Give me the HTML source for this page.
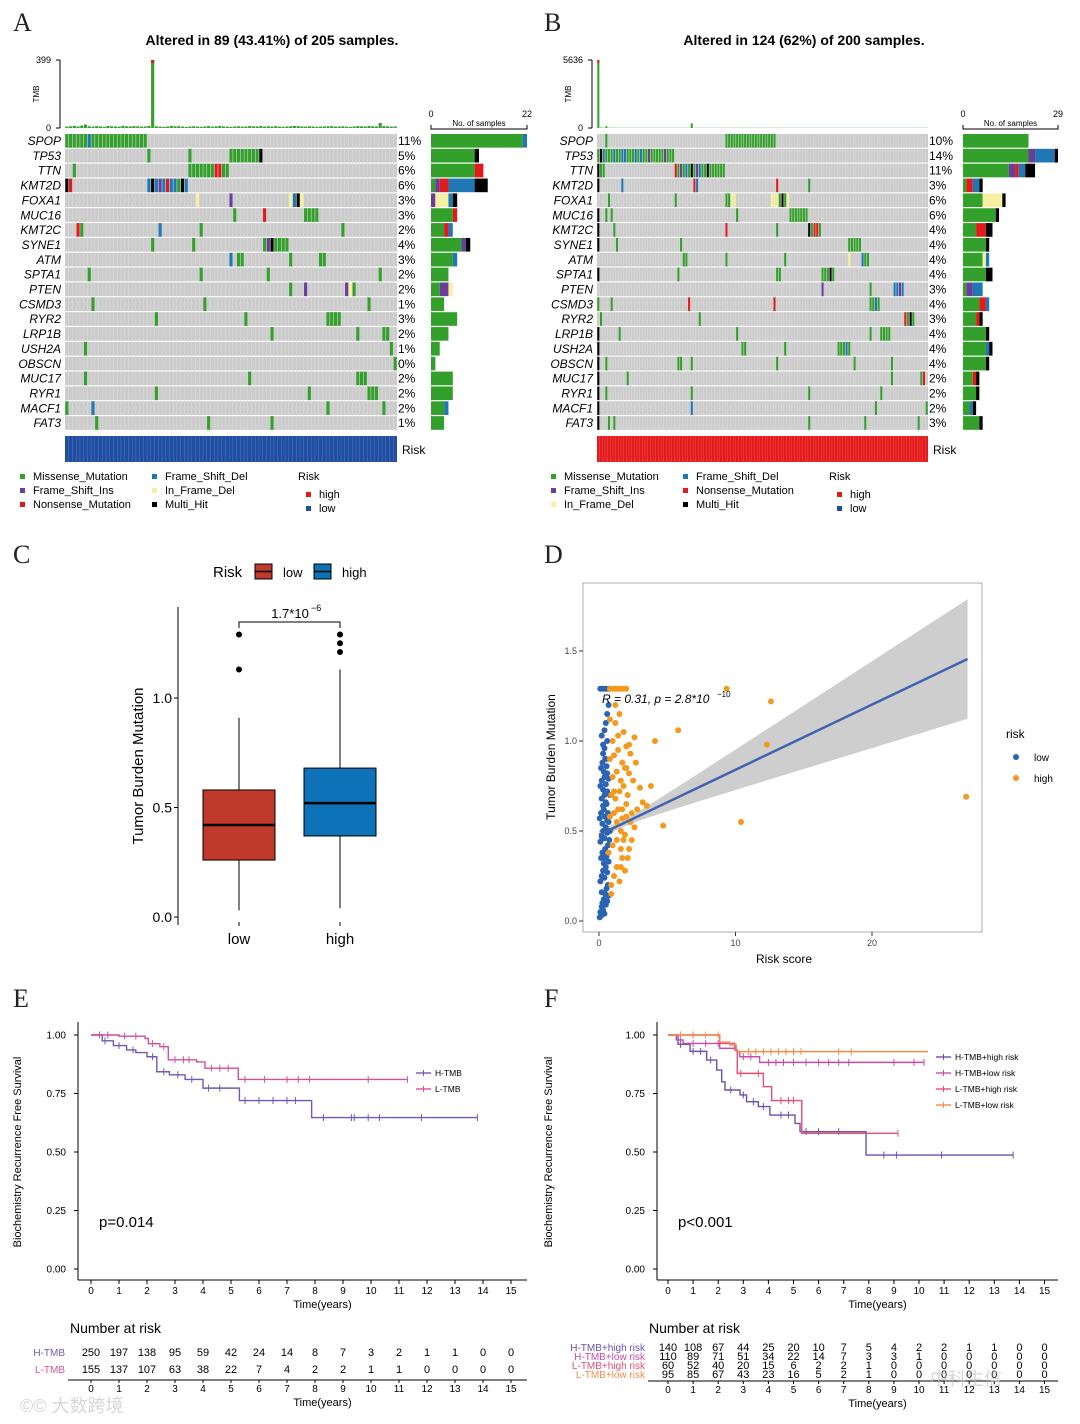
<!DOCTYPE html>
<html><head><meta charset="utf-8"><style>
html,body{margin:0;padding:0;background:#fff;}
svg{display:block;font-family:"Liberation Sans",Arial,sans-serif;}
.gl{font-style:italic;font-size:12px;}
</style></head><body>
<svg id="fig" width="1080" height="1424" viewBox="0 0 1080 1424" xmlns="http://www.w3.org/2000/svg">
<rect x="0" y="0" width="1080" height="1424" fill="#fff"/>
<g font-family="Liberation Serif,serif" font-size="26" fill="#222">
<text x="13" y="31">A</text>
<text x="544" y="31">B</text>
<text x="13" y="563">C</text>
<text x="544" y="563">D</text>
<text x="13" y="1007">E</text>
<text x="544" y="1007">F</text>
</g>
<text x="272" y="45" text-anchor="middle" font-size="14" font-weight="bold">Altered in 89 (43.41%) of 205 samples.</text>
<text x="804" y="45" text-anchor="middle" font-size="14" font-weight="bold">Altered in 124 (62%) of 200 samples.</text>
<g id="gA"></g>
<g id="gB"></g>
<g id="gC"></g>
<g id="gD"></g>
<g id="gE"></g>
<g id="gF"></g>
<text x="20" y="1412" font-size="18" fill="#bbb" opacity="0.6">©© 大数跨境</text>
<text x="930" y="1385" font-size="18" fill="#bbb" opacity="0.6">中科生信</text>
</svg>
<script>
const NS="http://www.w3.org/2000/svg";
function mk(tag,attrs,parent,txt){const e=document.createElementNS(NS,tag);for(const k in attrs)e.setAttribute(k,attrs[k]);if(txt!==undefined)e.textContent=txt;parent.appendChild(e);return e;}

const genes=["SPOP","TP53","TTN","KMT2D","FOXA1","MUC16","KMT2C","SYNE1","ATM","SPTA1","PTEN","CSMD3","RYR2","LRP1B","USH2A","OBSCN","MUC17","RYR1","MACF1","FAT3"];
const pctA=["11%","5%","6%","6%","3%","3%","2%","4%","3%","2%","2%","1%","3%","2%","1%","0%","2%","2%","2%","1%"];
const pctB=["10%","14%","11%","3%","6%","6%","4%","4%","4%","4%","3%","4%","3%","4%","4%","4%","2%","2%","2%","3%"];
const mutA=["0-5M 6F 7-21M","22M 33M 44-51M 52X","2M 33-39M 40-41N 42-43M","0X 1N 22F 23X 24F 25I 26F 27N 28F 29F 30M 31X 32F","35Y 44I 60Y 61F 62X 63Y","45M 53N 64-67M","3N 4M 25F 36M 74M","23M 34M 53M 54I 55X 56-59M","44F 46-47M 60M 68-69M","6M 36M 54M 84M","60M 64I 75I 76Y 77M","7M 37M 81M","24M 48M 70-73M","55M 78M 85-86M","5M 87M","88M","5M 49M 78-80M","24M 65M 81-83M","0M 7F 70M 85M","8M 38M 55M"];
const mutB=["3M 48-66M","0M 1X 2F 3-5M 6F 7-8M 9-10F 11-13M 14F 15M 16F 17-18M 19I 20-24M 25I 26-28M","0X 1-2M 29N 30M 31I 32M 33F 34M 35X 36M 37I 38F 39-40M 41X 42-47M","0X 9F 36N 37F 67N 79M","4M 29M 48-49M 50-51Y 65-67Y 68M 69X 70M 71Y","0X 3M 5M 52M 72-78M","0X 6M 48N 67M 79X 80M 81-82N 83M","0X 7M 31M 94-98M","32-33M 48M 70M 94Y 99F 100-101M","0X 30M 67-68M 84-86M 87X 88M","84I 102M 111-112F 113I 114F","0M 5M 34N 66N 102-103M 104F 105M","1M 38M 115N 116M 117X 118M","0X 8M 52M 102M 106-109M","0X 54-55M 70M 90-92M 93F 94M","0X 3M 30-31M 35M 67M 96M 110M","0X 11M 110M 121M 122N","0X 3M 35M 79M 106M","0X 35F 104M 123M","0X 4M 6M 79M 100M 120M"];
const tmbA=[8,10,12,9,14,20,10,8,11,9,7,12,10,9,8,13,10,9,11,10,8,9,12,399,10,8,7,9,12,10,11,8,6,9,10,8,7,9,11,8,10,12,9,8,7,9,10,8,9,11,10,9,12,8,10,9,11,8,7,9,10,12,11,9,8,10,9,7,8,9,10,11,8,9,10,8,7,9,11,10,9,12,10,9,30,11,10,8,9];
const tmbB=[5636,40,30,150,20,25,30,20,18,22,20,19,21,20,18,22,20,19,21,20,18,22,20,19,21,20,18,22,20,19,21,20,18,22,20,380,21,20,18,22,20,19,21,20,18,22,20,19,21,20,18,22,20,19,21,20,18,22,20,19,21,20,18,22,20,19,21,20,18,22,20,19,21,20,18,22,20,19,21,20,18,22,20,19,21,20,18,22,20,19,21,20,18,22,20,19,21,20,18,22,20,19,21,20,18,22,20,19,21,20,18,22,20,19,21,20,18,22,20,19,21,20,18,22];
const colors={M:"#33a02c",F:"#1f78b4",I:"#6a3d9a",Y:"#f6f1a2",N:"#e31a1c",X:"#000000"};
const typeOrder=["M","I","Y","N","F","X"];
function parseMut(s){const out=[];s.split(" ").forEach(tok=>{const t=tok.slice(-1);const r=tok.slice(0,-1).split("-");const a=+r[0],b=r.length>1?+r[1]:a;for(let i=a;i<=b;i++)out.push([i,t]);});return out;}

function oncoplot(g,cfg){
  const {x0,x1,nCols,muts,pcts,tmb,tmbMax,barX,barMax,barW,riskColor,legend}=cfg;
  const top=134,rowH=14.85,cw=(x1-x0)/nCols;
  const P=document.getElementById(g);
  const yT=v=>128-v/tmbMax*68;
  let a=mk("line",{x1:x0-5,y1:60,x2:x0-5,y2:128,stroke:"#000","stroke-width":1},P);
  
  
  let t1=mk("text",{x:x0-14,y:63,"text-anchor":"end","font-size":9},P,String(tmbMax));
  
  
  let t0=mk("text",{x:x0-14,y:131,"text-anchor":"end","font-size":9},P,"0");
  
  
  [60,128].forEach(y=>mk("line",{x1:x0-9,y1:y,x2:x0-5,y2:y,stroke:"#000"},P));
  let tt=mk("text",{x:0,y:0,"font-size":8,"text-anchor":"middle",transform:`translate(${x0-26},94) rotate(-90)`},P,"TMB");
  
  
  tmb.forEach((v,i)=>{const y=yT(v);
    const b=mk("rect",{x:x0+i*cw+0.3,y:y,width:Math.max(cw-0.6,0.8),height:128-y,fill:"#33a02c"},P);
    
    
    if(v>tmbMax*0.5){const c=mk("rect",{x:x0+i*cw+0.3,y:y,width:Math.max(cw-0.6,0.8),height:3,fill:"#e31a1c"},P);
      
      }
  });
  genes.forEach((gname,r)=>{
    const y=top+r*rowH;
    const bg=mk("rect",{x:x0,y:y,width:x1-x0,height:rowH-1.2,fill:"#cccccc"},P);
    
    
    const lab=mk("text",{x:x0-4,y:y+11,"text-anchor":"end",class:"gl"},P,gname);
    
    
    const pc=mk("text",{x:x1+1,y:y+11,"font-size":12},P,pcts[r]);
    
    
  });
  for(let i=1;i<nCols;i++){mk("line",{x1:x0+i*cw,y1:top,x2:x0+i*cw,y2:top+20*rowH,stroke:"#dedede","stroke-width":0.5},P);}
  muts.forEach((s,r)=>{
    const y=top+r*rowH;const ev=parseMut(s);const cnt={};
    ev.forEach(([c,t])=>{cnt[t]=(cnt[t]||0)+1;
      const cell=mk("rect",{x:x0+c*cw+0.3,y:y,width:cw-0.6,height:rowH-1.2,fill:colors[t]},P);
      
      
    });
    let bx=barX;const sc=barW/barMax;
    typeOrder.forEach(t=>{if(!cnt[t])return;
      const br=mk("rect",{x:bx,y:y,width:cnt[t]*sc,height:rowH-1.2,fill:colors[t]},P);
      
      
      bx+=cnt[t]*sc;});
  });
  const ax=mk("path",{d:`M${barX} 125 V129 H${barX+barW} V125`,fill:"none",stroke:"#000"},P);
  
  
  const s0=mk("text",{x:barX,y:117,"font-size":9,"text-anchor":"middle"},P,"0");
  
  
  const s1=mk("text",{x:barX+barW,y:117,"font-size":9,"text-anchor":"middle"},P,String(barMax));
  
  
  const st=mk("text",{x:barX+barW/2,y:126,"font-size":8,"text-anchor":"middle"},P,"No. of samples");
  
  
  const rb=mk("rect",{x:x0,y:436,width:x1-x0,height:26,fill:riskColor},P);
  
  
  for(let i=1;i<nCols;i++){mk("line",{x1:x0+i*cw,y1:436,x2:x0+i*cw,y2:462,stroke:"#fff","stroke-width":0.25,opacity:0.5},P);}
  const rl=mk("text",{x:x1+5,y:454,"font-size":12},P,"Risk");
  
  
  legend.forEach(([lx,ly,t,txt])=>{
    const sq=mk("rect",{x:lx,y:ly-6,width:5,height:5,fill:colors[t]},P);
    
    
    const lt=mk("text",{x:lx+13,y:ly,"font-size":11},P,txt);
    
    
  });
  const lx=legend[0][0]+278;
  const rt=mk("text",{x:lx,y:480,"font-size":11},P,"Risk");
  
  
  [["#e31a1c","high",498],["#1f4ea3","low",512]].forEach(([c,txt,y])=>{
    const q=mk("rect",{x:lx+8,y:y-6,width:5,height:5,fill:c},P);
    
    
    const tx=mk("text",{x:lx+21,y:y,"font-size":11},P,txt);
    
    
  });
}
oncoplot("gA",{x0:65,x1:397,nCols:89,muts:mutA,pcts:pctA,tmb:tmbA,tmbMax:399,barX:431,barMax:22,barW:96,riskColor:"#1f4ea3",
 legend:[[20,480,"M","Missense_Mutation"],[152,480,"F","Frame_Shift_Del"],[20,494,"I","Frame_Shift_Ins"],[152,494,"Y","In_Frame_Del"],[20,508,"N","Nonsense_Mutation"],[152,508,"X","Multi_Hit"]]});
oncoplot("gB",{x0:597,x1:928,nCols:124,muts:mutB,pcts:pctB,tmb:tmbB,tmbMax:5636,barX:963,barMax:29,barW:95,riskColor:"#e41a1c",
 legend:[[551,480,"M","Missense_Mutation"],[683,480,"F","Frame_Shift_Del"],[551,494,"I","Frame_Shift_Ins"],[683,494,"N","Nonsense_Mutation"],[551,508,"Y","In_Frame_Del"],[683,508,"X","Multi_Hit"]]});

const boxGroups=["low","high"];
const boxMin=[0.03,0.04];
const boxQ1=[0.26,0.37];
const boxMed=[0.42,0.52];
const boxQ3=[0.58,0.68];
const boxMax=[0.91,1.13];
const boxOut=[[1.13,1.29],[1.21,1.25,1.29]];
const boxFill=["#c0392b","#0e72b8"];
(function(){
  const P=document.getElementById("gC");
  const yS=v=>917-v*219;const xC=[239,340];
  const ax=mk("line",{x1:178,y1:607,x2:178,y2:925,stroke:"#000","stroke-width":1},P);
  
  
  [0,0.5,1.0].forEach(v=>{mk("line",{x1:174,y1:yS(v),x2:178,y2:yS(v),stroke:"#000"},P);
    const t=mk("text",{x:172,y:yS(v)+5,"text-anchor":"end","font-size":14},P,v.toFixed(1));
    
    });
  const yt=mk("text",{x:0,y:0,"font-size":15,"text-anchor":"middle",transform:"translate(143,766) rotate(-90)"},P,"Tumor Burden Mutation");
  
  
  boxGroups.forEach((gname,i)=>{const x=xC[i];
    const w=mk("line",{x1:x,y1:yS(boxMin[i]),x2:x,y2:yS(boxMax[i]),stroke:"#000"},P);
    
    
    const b=mk("rect",{x:x-36,y:yS(boxQ3[i]),width:72,height:yS(boxQ1[i])-yS(boxQ3[i]),fill:boxFill[i],stroke:"#000"},P);
    
    
    const m=mk("line",{x1:x-36,y1:yS(boxMed[i]),x2:x+36,y2:yS(boxMed[i]),stroke:"#000","stroke-width":2.5},P);
    
    
    boxOut[i].forEach(v=>{const o=mk("circle",{cx:x,cy:yS(v),r:3,fill:"#000"},P);
      
      });
    mk("line",{x1:x,y1:922,x2:x,y2:926,stroke:"#000"},P);
    const lb=mk("text",{x:x,y:944,"text-anchor":"middle","font-size":15},P,gname);
    
    
  });
  const br=mk("path",{d:"M239 628 V622 H340 V628",fill:"none",stroke:"#000"},P);
  
  
  const pv=mk("text",{x:290,y:618,"text-anchor":"middle","font-size":13},P,"1.7*10");
  
  
  mk("text",{x:311,y:611,"font-size":9},P,"−6");
  const lt=mk("text",{x:213,y:577,"font-size":15},P,"Risk");
  
  
  [[255,boxFill[0],"low"],[314,boxFill[1],"high"]].forEach(([x,c,t])=>{
    const s=mk("rect",{x:x,y:564,width:17,height:15,fill:c,stroke:"#000"},P);
    
    
    mk("line",{x1:x,y1:571.5,x2:x+17,y2:571.5,stroke:"#000","stroke-width":1.5},P);
    const tx=mk("text",{x:x+28,y:577,"font-size":13},P,t);
    
    
  });
})();

const lowX=[0.05,0.1,0.15,0.2,0.25,0.3,0.35,0.4,0.45,0.5,0.55,0.6,0.65,0.7,0.1,0.2,0.3,0.4,0.5,0.6,0.7,0.15,0.25,0.35,0.45,0.55,0.65,0.75,0.1,0.2,0.3,0.4,0.5,0.6,0.7,0.8,0.05,0.15,0.25,0.35,0.45,0.55,0.65,0.2,0.3,0.4,0.5,0.6,0.1,0.2,0.3,0.4,0.5,0.6,0.7,0.15,0.25,0.35,0.45,0.55,0.3,0.4,0.5,0.6,0.2,0.3,0.4,0.5,0.6,0.7,0.1,0.3,0.5,0.7,0.2,0.4,0.6,0.8];
const lowY=[0.02,0.05,0.03,0.08,0.1,0.06,0.12,0.04,0.15,0.09,0.18,0.11,0.2,0.14,0.22,0.25,0.28,0.24,0.3,0.27,0.33,0.35,0.38,0.32,0.4,0.36,0.42,0.45,0.44,0.47,0.5,0.46,0.52,0.49,0.55,0.5,0.57,0.6,0.54,0.62,0.58,0.65,0.6,0.68,0.64,0.7,0.66,0.72,0.75,0.78,0.73,0.8,0.76,0.82,0.79,0.85,0.88,0.83,0.9,0.86,0.93,0.96,0.9,1.0,1.03,0.98,1.06,1.1,1.15,1.2,1.29,1.29,1.29,1.29,0.16,0.35,0.56,0.7];
const highX=[0.8,1.0,1.2,1.4,1.6,1.8,2.0,0.9,1.1,1.3,1.5,1.7,1.9,2.2,0.7,1.0,1.3,1.6,1.9,2.3,2.6,0.8,1.1,1.4,1.7,2.0,2.4,2.8,3.2,0.9,1.2,1.5,1.8,2.1,2.5,3.0,3.5,1.0,1.3,1.6,1.9,2.2,2.7,0.8,1.1,1.4,1.7,2.0,2.3,1.0,1.4,1.8,2.2,2.6,3.8,4.1,4.7,5.8,9.35,12.6,12.3,10.4,26.9,1.2,1.5,1.8,2.1,0.9,1.3,1.7,2.4,1.1,1.6,2.0,0.8,1.2,1.6,2.0];
const highY=[1.29,1.29,1.29,1.29,1.29,1.29,1.29,0.2,0.25,0.3,0.22,0.35,0.28,0.4,0.38,0.42,0.45,0.5,0.48,0.55,0.52,0.58,0.6,0.62,0.57,0.65,0.6,0.62,0.66,0.7,0.68,0.72,0.75,0.7,0.78,0.74,0.64,0.8,0.83,0.78,0.85,0.82,0.88,0.9,0.92,0.95,0.88,0.97,0.93,1.0,1.03,1.05,0.98,1.02,0.75,1.0,0.53,1.06,1.29,1.22,0.98,0.55,0.69,1.1,1.15,0.45,0.35,0.15,0.55,0.62,0.45,0.72,0.4,0.85,1.12,1.2,0.3,0.58];
(function(){
  const P=document.getElementById("gD");
  const xS=v=>599+v*13.65, yS=v=>921-v*180;
  const fr=mk("rect",{x:583,y:583,width:399,height:349,fill:"#fff",stroke:"#999","stroke-width":0.8},P);
  
  
  [0,0.5,1.0,1.5].forEach(v=>{mk("line",{x1:579,y1:yS(v),x2:583,y2:yS(v),stroke:"#333"},P);
    const t=mk("text",{x:577,y:yS(v)+3,"text-anchor":"end","font-size":9,fill:"#444"},P,v.toFixed(1));
    
    });
  [0,10,20].forEach(v=>{mk("line",{x1:xS(v),y1:932,x2:xS(v),y2:936,stroke:"#333"},P);
    const t=mk("text",{x:xS(v),y:946,"text-anchor":"middle","font-size":9,fill:"#444"},P,String(v));
    
    });
  const xt=mk("text",{x:784,y:963,"text-anchor":"middle","font-size":12},P,"Risk score");
  
  
  const yt=mk("text",{x:0,y:0,"text-anchor":"middle","font-size":12,transform:"translate(555,757) rotate(-90)"},P,"Tumor Burden Mutation");
  
  
  const b0=0.478,b1=0.0362;let up=[],dn=[];
  for(let x=0;x<=27;x+=0.5){const h=Math.sqrt(0.02*0.02+Math.pow(0.013*(x-1.5),2));up.push([xS(x),yS(b0+b1*x+h)]);dn.unshift([xS(x),yS(b0+b1*x-h)]);}
  const band=mk("polygon",{points:up.concat(dn).map(p=>p.join(",")).join(" "),fill:"#bdbdbd",opacity:0.75},P);
  
  
  lowX.forEach((x,i)=>{const c=mk("circle",{cx:xS(x),cy:yS(lowY[i]),r:3,fill:"#2b63b5"},P);
    
    });
  highX.forEach((x,i)=>{const c=mk("circle",{cx:xS(x),cy:yS(highY[i]),r:3,fill:"#f39a1e"},P);
    
    });
  const rl=mk("line",{x1:xS(0),y1:yS(b0),x2:xS(27),y2:yS(b0+b1*27),stroke:"#3f63b0","stroke-width":2.5},P);
  
  
  const an=mk("text",{x:602,y:703,"font-size":12,"font-style":"italic"},P,"R = 0.31, p = 2.8*10");
  
  
  mk("text",{x:717,y:697,"font-size":8},P,"−10");
  const lt=mk("text",{x:1006,y:738,"font-size":12},P,"risk");
  
  
  [["#2b63b5","low",757],["#f39a1e","high",778]].forEach(([c,t,y])=>{
    const d=mk("circle",{cx:1016,cy:y,r:3,fill:c},P);
    
    
    const tx=mk("text",{x:1034,y:y+4,"font-size":10},P,t);
    
    
  });
})();

const eNames=["H-TMB","L-TMB"];
const eColors=["#7058b6","#d4509c"];
const eTimes=[[0,0.4,0.8,1.27,1.6,2.0,2.35,2.8,3.36,4.0,5.3,7.88],[0,1.0,1.93,2.05,2.46,2.76,3.77,4.07,5.26]];
const eSurv=[[1,0.975,0.955,0.936,0.925,0.907,0.843,0.83,0.81,0.773,0.72,0.647],[1,0.995,0.985,0.963,0.95,0.894,0.885,0.858,0.81]];
const eEnd=[13.8,11.3];
const eCens=[[0.5,1.0,1.5,2.2,2.6,3.1,3.6,4.2,4.6,5.5,6.0,6.5,7.0,7.3,8.3,9.3,9.4,9.9,10.3,11.8,13.8],[0.3,0.6,1.2,1.6,2.2,2.6,3.0,3.3,3.5,4.3,4.6,4.9,5.5,6.2,7.0,7.4,7.8,9.9,11.3]];
const eRisk=[[250,197,138,95,59,42,24,14,8,7,3,2,1,1,0,0],[155,137,107,63,38,22,7,4,2,2,1,1,0,0,0,0]];
const fNames=["H-TMB+high risk","H-TMB+low risk","L-TMB+high risk","L-TMB+low risk"];
const fColors=["#6a50b2","#c94aa9","#ea4d72","#f28c4e"];
const fTimes=[[0,0.4,0.88,1.54,1.94,2.14,2.27,2.87,3.13,3.6,4.06,5.06,5.26,7.89],[0,0.33,0.6,2.06,2.72,2.86,3.65],[0,2.06,2.66,2.76,3.8,4.13,5.33],[0,2.06,2.46,2.72]];
const fSurv=[[1,0.96,0.93,0.893,0.85,0.8,0.765,0.744,0.715,0.694,0.658,0.622,0.587,0.487],[1,0.979,0.964,0.943,0.929,0.907,0.883],[1,0.964,0.936,0.836,0.779,0.72,0.58],[1,0.97,0.957,0.929]];
const fEnd=[13.75,10.2,9.16,10.36];
const fCens=[[0.5,1.0,1.3,1.7,2.5,3.0,3.4,3.8,4.5,4.8,5.5,6.0,6.8,8.6,9.1,10.9,13.75],[0.5,1.0,1.5,2.0,3.0,3.3,4.0,4.3,4.6,5.0,5.5,6.0,6.4,6.8,7.2,9.0,9.8,10.2],[1.0,2.9,3.6,4.5,4.8,5.0,9.16],[0.5,1.0,1.5,2.0,3.2,3.5,3.8,4.1,4.4,4.7,5.0,5.3,6.8,7.3]];
const fRisk=[[140,108,67,44,25,20,10,7,5,4,2,2,1,1,0,0],[110,89,71,51,34,22,14,7,3,3,1,0,0,0,0,0],[60,52,40,20,15,6,2,2,1,0,0,0,0,0,0,0],[95,85,67,43,23,16,5,2,1,0,0,0,0,0,0,0]];

function kmPanel(id,cfg){
  const P=document.getElementById(id);
  const {ax0,ax1,x0,xs,times,surv,ends,cens,cols,names,risk,pText,legX,legY,legDy,rowY,tabLabX,tabAxisY,nrX,rowFont,ytX,labFont}=cfg;
  const xS=t=>x0+t*xs, yS=s=>1269-s*234;
  const ya=mk("line",{x1:ax0,y1:1022,x2:ax0,y2:1280,stroke:"#000"},P);
  
  
  const xa=mk("line",{x1:ax0,y1:1280,x2:ax1,y2:1280,stroke:"#000"},P);
  
  
  [0,0.25,0.5,0.75,1].forEach(v=>{mk("line",{x1:ax0-4,y1:yS(v),x2:ax0,y2:yS(v),stroke:"#000"},P);
    const t=mk("text",{x:ax0-12,y:yS(v)+3.5,"text-anchor":"end","font-size":10},P,v.toFixed(2));
    
    });
  for(let k=0;k<=15;k++){mk("line",{x1:xS(k),y1:1280,x2:xS(k),y2:1284,stroke:"#000"},P);
    const t=mk("text",{x:xS(k),y:1294,"text-anchor":"middle","font-size":10},P,String(k));
    
    
    mk("line",{x1:xS(k),y1:tabAxisY,x2:xS(k),y2:tabAxisY+3,stroke:"#000"},P);
    const t2=mk("text",{x:xS(k),y:tabAxisY+12,"text-anchor":"middle","font-size":10},P,String(k));
    
    }
  const xt=mk("text",{x:(ax0+ax1)/2+20,y:1308,"text-anchor":"middle","font-size":11},P,"Time(years)");
  
  
  const xt2=mk("text",{x:(ax0+ax1)/2+20,y:tabAxisY+26,"text-anchor":"middle","font-size":11},P,"Time(years)");
  
  
  const yt=mk("text",{x:0,y:0,"text-anchor":"middle","font-size":11,transform:`translate(${ytX},1152) rotate(-90)`},P,"Biochemistry Recurrence Free Survival");
  
  
  const pt=mk("text",{x:ax0+21,y:1227,"font-size":15},P,pText);
  
  
  times.forEach((ts,i)=>{
    let d=`M${xS(ts[0])} ${yS(surv[i][0])}`;
    for(let k=1;k<ts.length;k++){d+=` H${xS(ts[k])} V${yS(surv[i][k])}`;}
    d+=` H${xS(ends[i])}`;
    const c=mk("path",{d:d,fill:"none",stroke:cols[i],"stroke-width":1.4},P);
    
    
    cens[i].forEach(t=>{let s=surv[i][0];for(let k=0;k<ts.length;k++){if(ts[k]<=t)s=surv[i][k];}
      const m=mk("path",{d:`M${xS(t)} ${yS(s)-3.5} V${yS(s)+3.5}`,stroke:cols[i],"stroke-width":1},P);
      
      });
    const ly=legY+i*legDy;
    const ll=mk("line",{x1:legX,y1:ly,x2:legX+15,y2:ly,stroke:cols[i],"stroke-width":1.4},P);
    
    
    mk("line",{x1:legX+7.5,y1:ly-3,x2:legX+7.5,y2:ly+3,stroke:cols[i]},P);
    const lt=mk("text",{x:legX+19,y:ly+3,"font-size":8.5},P,names[i]);
    
    
    const rl=mk("text",{x:tabLabX,y:rowY[i]+4,"text-anchor":"end","font-size":labFont,fill:cols[i]},P,names[i]);
    
    
    risk[i].forEach((v,k)=>{const t=mk("text",{x:xS(k),y:rowY[i]+4,"text-anchor":"middle","font-size":rowFont},P,String(v));
      
      });
  });
  const tl=mk("line",{x1:tabLabX+3,y1:tabAxisY,x2:ax1,y2:tabAxisY,stroke:"#000"},P);
  
  
  const nr=mk("text",{x:nrX,y:1333,"font-size":14},P,"Number at risk");
  
  
}
kmPanel("gE",{ax0:78,ax1:527,x0:91,xs:28,times:eTimes,surv:eSurv,ends:eEnd,cens:eCens,cols:eColors,names:eNames,risk:eRisk,pText:"p=0.014",legX:416,legY:1073,legDy:16,rowY:[1352,1369],tabLabX:65,tabAxisY:1380,nrX:70,rowFont:11,ytX:21,labFont:10});
kmPanel("gF",{ax0:657,ax1:1058,x0:668,xs:25.1,times:fTimes,surv:fSurv,ends:fEnd,cens:fCens,cols:fColors,names:fNames,risk:fRisk,pText:"p<0.001",legX:936,legY:1057,legDy:16,rowY:[1347,1356,1365,1374],tabLabX:645,tabAxisY:1381,nrX:649,rowFont:11,ytX:552,labFont:10});
</script>
</body></html>
